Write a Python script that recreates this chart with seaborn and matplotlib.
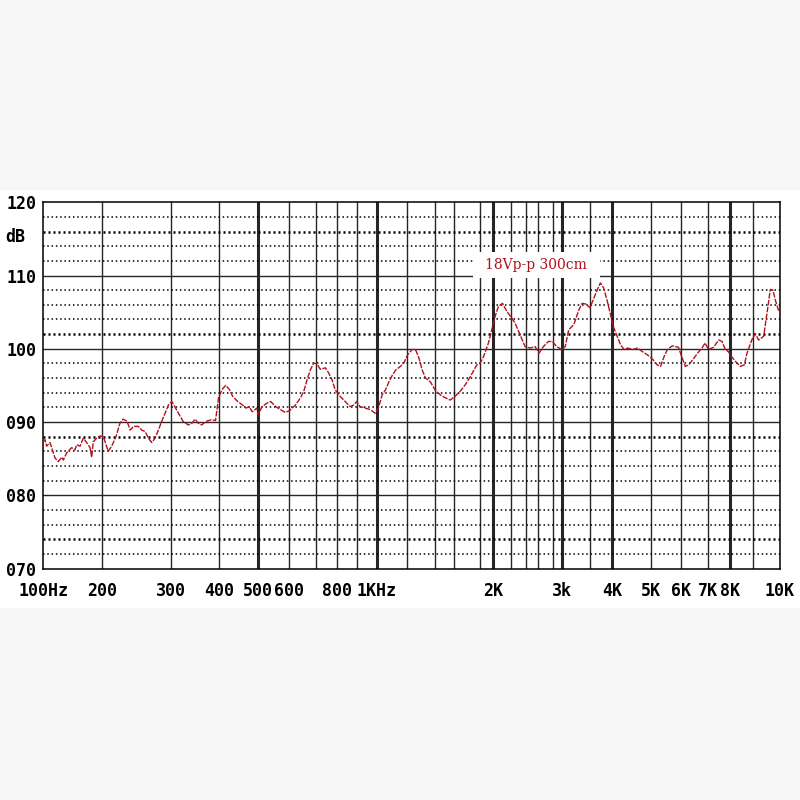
import numpy as np
import matplotlib
matplotlib.use("Agg")
import matplotlib.pyplot as plt
from matplotlib.patches import Rectangle
import seaborn as sns

# frequency response (Hz, dB)
freq = [100, 102, 104, 108.3, 114.9, 119.5, 124.4, 126.8, 132, 140, 145.7, 148.6, 154.6,
        160.8, 167.4, 174.1, 177.6, 181, 188.4, 196,
        201.9, 204, 207.8, 212, 217.4, 222.4, 226.7, 232, 236.3, 240.8, 247.9, 252.8,
        257.8, 262.8, 268, 273.3, 278.6, 284.2, 289.8, 295.3,
        301.4, 308.3, 315.1, 322.2, 332.5, 339.3, 346.2, 353.2, 360, 370.4, 380.7, 391,
        394.6, 398,
        406, 414.6, 423, 431.8, 444.6, 457.4, 465.9, 474.4, 483, 495.9,
        500, 511, 527, 537.7, 553.9, 570, 586,
        602.6, 621, 640, 652.4, 665, 677.5, 689.9,
        703.3, 718.8, 742.3, 757.7, 773.7, 789.2,
        813.9, 839.7, 865.5, 882.5,
        900, 916.5, 941.5, 966.5, 991.5,
        1010, 1033, 1054, 1076, 1098, 1120, 1152, 1174,
        1203, 1232, 1256, 1279, 1304, 1328, 1364,
        1400, 1452, 1504, 1555,
        1605, 1644, 1683, 1722, 1774,
        1800, 1850, 1925, 1976,
        2019, 2056, 2102, 2151,
        2209, 2253, 2320, 2387,
        2467, 2550,
        2614, 2673, 2742,
        2797, 2891,
        3000, 3058, 3117, 3205, 3293, 3353, 3424,
        3500, 3612, 3724, 3798, 3874, 3948,
        4026, 4115, 4200, 4286, 4375, 4505, 4635, 4766, 4896,
        5033, 5198, 5307, 5416, 5528, 5693, 5911,
        6026, 6150, 6273, 6461, 6648, 6775, 6899,
        7027, 7251, 7475, 7628, 7776, 7924,
        8073, 8215, 8429, 8601, 8717, 8931,
        9064, 9187, 9375, 9502, 9625, 9727, 9813, 9936, 10000]
db = [87.3, 87.6, 86.7, 87.2, 85.1, 84.6, 85.2, 84.8, 85.8, 86.5, 86.2, 86.9, 86.7,
      87.8, 87.2, 86.5, 85.2, 87.3, 87.8, 88.1,
      88.0, 87.3, 86.0, 86.7, 88.0, 89.8, 90.4, 90.1, 88.9, 89.4, 89.4, 88.9,
      88.7, 87.8, 87.2, 87.8, 88.9, 90.1, 91.2, 92.3,
      92.8, 91.9, 91.0, 90.1, 89.6, 89.8, 90.4, 89.8, 89.6, 90.1, 90.3, 90.2,
      91.7, 93.3,
      94.4, 95.0, 94.5, 93.5, 92.8, 92.3, 91.9, 92.1, 91.4, 91.9,
      91.0, 92.1, 92.6, 92.8, 92.1, 91.7, 91.3,
      91.6, 92.3, 93.3, 94.2, 95.8, 97.1, 98.0,
      98.0, 97.2, 97.4, 96.7, 95.8, 94.4,
      93.5, 92.8, 92.1, 92.3,
      92.8, 92.1, 91.9, 91.7, 91.2,
      91.9, 93.7, 94.4, 95.5, 96.4, 97.1, 97.6, 98.0,
      99.2, 99.9, 99.9, 98.8, 97.1, 96.0, 95.5,
      94.4, 93.7, 93.3, 93.0,
      93.5, 94.2, 95.1, 96.2, 97.8,
      98.0, 98.9, 100.8, 102.6,
      104.4, 105.8, 106.2, 105.1,
      104.2, 103.5, 101.9, 100.3,
      100.1, 100.3,
      99.4, 100.3, 101.0,
      101.0, 100.3,
      99.9, 100.3, 102.6, 103.3, 105.3, 106.2, 106.1,
      105.6, 107.4, 109.0, 108.3, 106.7, 104.9,
      103.0, 101.7, 100.5, 99.9, 100.1, 99.9, 100.1, 99.6, 99.2,
      98.7, 97.8, 97.6, 98.9, 99.9, 100.4, 100.2,
      98.9, 97.6, 97.8, 98.7, 99.6, 100.1, 100.8,
      99.9, 100.2, 101.2, 101.0, 99.9, 99.6,
      98.9, 98.3, 97.6, 97.8, 99.4, 101.2,
      102.1, 101.2, 101.7, 104.9, 108.1, 108.0, 106.7, 105.3, 105.0]

# graph paper: frequencies of the vertical lines and where they sit (pixels)
grid_freq = [100, 200, 300, 400, 500, 600, 700, 800, 900, 1000,
             1200, 1400, 1600, 1800, 2000, 2200, 2400, 2600, 2800, 3000,
             3500, 4000, 5000, 6000, 7000, 8000, 9000, 10000]
grid_pos = [43.3, 101.7, 171, 219.3, 258.3, 289.3, 316, 337.3, 356.7, 376.7,
            407.3, 435, 454.3, 480, 493.3, 511, 526, 538, 552.5, 561.7,
            590, 612.3, 650.7, 681, 707.7, 730, 753.3, 780]
thick_freq = [500, 1000, 2000, 3000, 4000, 8000]

xtick_freq = [100, 200, 300, 400, 500, 600, 800, 1000, 2000, 3000,
              4000, 5000, 6000, 7000, 8000, 10000]
xtick_labels = ["100Hz", "200", "300", "400", "500", "600", "800", "1KHz", "2K", "3k",
                "4K", "5K", "6K", "7K", "8K", "10K"]
ytick_vals = [70, 80, 90, 100, 110, 120]
ytick_labels = ["070", "080", "090", "100", "110", "120"]
bold_dotted = [74, 88, 102, 116]

note = "18Vp-p 300cm"

log_gf = np.log10(grid_freq)


def fwd(f):
    f = np.clip(np.asarray(f, dtype=float), 1e-9, None)
    return np.interp(np.log10(f), log_gf, grid_pos)


def inv(x):
    return 10 ** np.interp(np.asarray(x, dtype=float), grid_pos, log_gf)


sns.set_theme(style="white")
plt.rcParams["font.family"] = ["DejaVu Sans Mono", "DejaVu Sans"]
plt.rcParams["text.color"] = "black"
plt.rcParams["xtick.color"] = "black"
plt.rcParams["ytick.color"] = "black"

fig = plt.figure(figsize=(8, 8), dpi=100)
fig.patch.set_facecolor("#f6f6f6")
fig.patches.append(Rectangle((0, 0.24), 1, 0.5225, transform=fig.transFigure,
                             facecolor="white", edgecolor="none", zorder=-1))
ax = fig.add_axes([43.3 / 800, 1 - 568.5 / 800, (780 - 43.3) / 800, (568.5 - 202.3) / 800])
ax.set_facecolor("white")
ax.set_xscale("function", functions=(fwd, inv))
ax.set_xlim(100, 10000)
ax.set_ylim(70, 120)

grid_c = "#262626"
for f in grid_freq[1:-1]:
    ax.axvline(f, color=grid_c, lw=2.2 if f in thick_freq else 1.0, zorder=1)
for v in range(72, 120, 2):
    if v % 10 == 0:
        ax.axhline(v, color=grid_c, lw=1.0, zorder=1)
    elif v in bold_dotted:
        ax.axhline(v, color="black", lw=1.8, ls=(0, (0.8, 1.2)), zorder=1)
    else:
        ax.axhline(v, color="black", lw=1.1, ls=(0, (1, 1.8)), zorder=1)

# white box behind the note
ax.add_patch(Rectangle((0.583, 0.793), 0.172, 0.071, transform=ax.transAxes,
                       facecolor="white", edgecolor="none", zorder=2))
ax.text(0.669, 0.829, note, transform=ax.transAxes, ha="center", va="center",
        color="#b0101c", fontsize=10, family=["DejaVu Serif"], zorder=3)

sns.lineplot(x=freq, y=db, ax=ax, color="#b3111d", lw=1.0, estimator=None,
             sort=False, linestyle=(0, (4, 1)), zorder=4)

ax.set_xticks(xtick_freq, xtick_labels)
ax.set_yticks(ytick_vals, ytick_labels)
ax.xaxis.set_minor_locator(matplotlib.ticker.NullLocator())
ax.tick_params(axis="x", length=0, pad=10, labelsize=12, labelcolor="black")
ax.tick_params(axis="y", length=0, pad=5, labelsize=12, labelcolor="black")
for lab in ax.get_xticklabels() + ax.get_yticklabels():
    lab.set_fontweight("bold")
for s in ax.spines.values():
    s.set_color("black")
    s.set_linewidth(1.1)

fig.text(5 / 800, 1 - 237 / 800, "dB", ha="left", va="center", fontsize=12,
         fontweight="bold", color="black")

fig.savefig("out.png", dpi=100, facecolor=fig.get_facecolor())
